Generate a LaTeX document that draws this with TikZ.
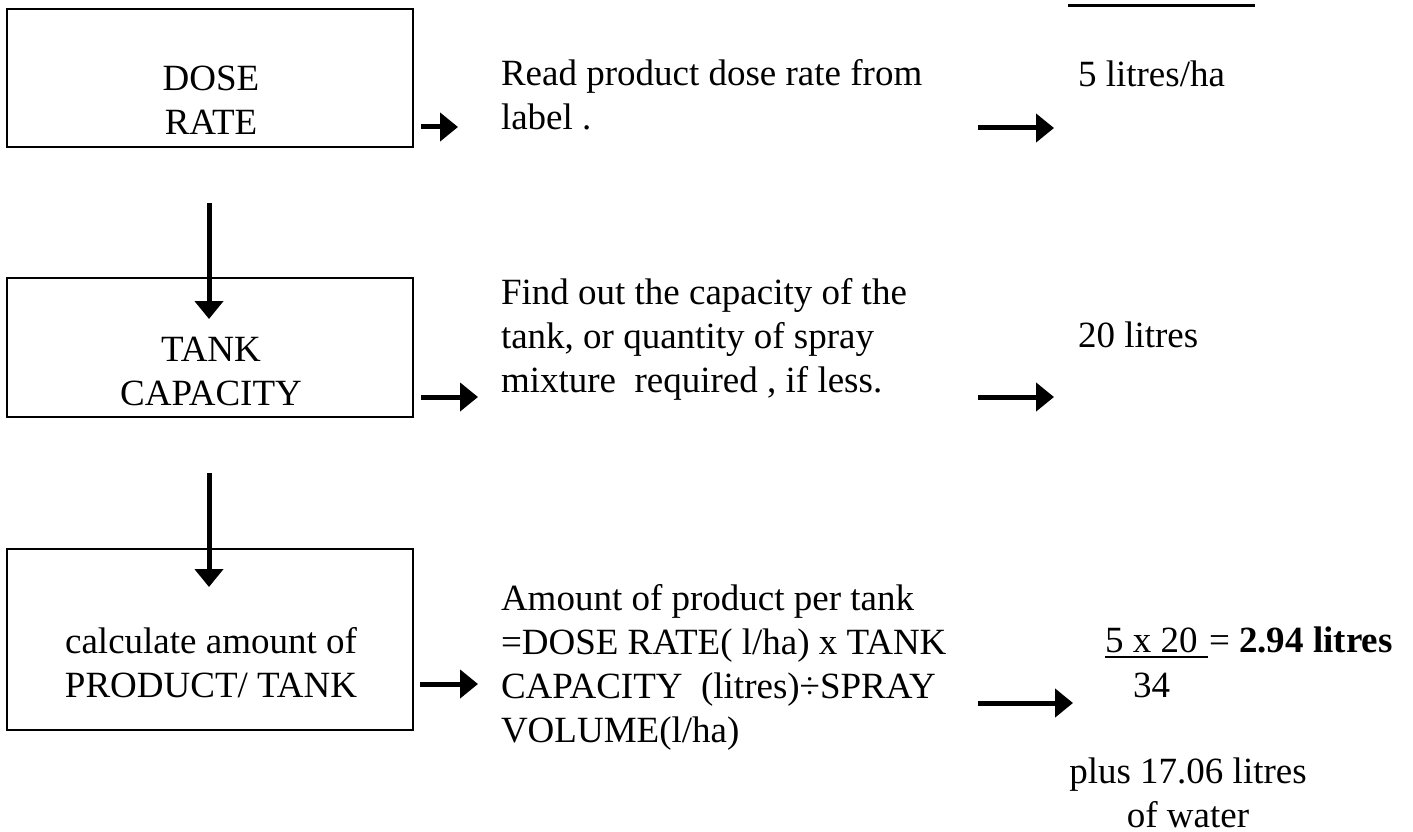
\documentclass[tikz,border=0pt]{standalone}
\usepackage{fontspec}
\setmainfont{Liberation Serif}
\usetikzlibrary{arrows.meta}
\begin{document}
\begin{tikzpicture}[x=1pt,y=1pt,
  every node/.style={inner sep=0pt,outer sep=0pt,font=\fontsize{37}{44}\selectfont},
  stepbox/.style={draw,line width=2.5pt,rectangle,minimum width=406pt},
  txt/.style={anchor=base west,align=left},
  ctxt/.style={anchor=base,align=center},
  arr/.style={line width=5pt,-{Triangle[length=18pt,width=28pt]}},
  rule/.style={line width=3.5pt}]
\useasboundingbox (0,0) rectangle (1413,-832);
% boxes
\node[stepbox,minimum height=138pt] (b1) at (210,-78) {};
\node[stepbox,minimum height=139pt] (b2) at (210,-347.5) {};
\node[stepbox,minimum height=181pt] (b3) at (210,-639.5) {};
% (multi-line nodes are anchored at the baseline of their last line)
\node[ctxt] (t1) at (211,-135) {DOSE\\RATE};
\node[ctxt] (t2) at (211,-405) {TANK\\CAPACITY};
\node[ctxt] (t3) at (211,-697) {calculate amount of\\PRODUCT/ TANK};
% middle column
\node[txt] (m1) at (501,-130) {Read product dose rate from\\label .};
\node[txt] (m2) at (501,-392) {Find out the capacity of the\\tank, or quantity of spray\\mixture\ \ required , if less.};
\node[txt] (m3) at (501,-742) {Amount of product per tank\\=DOSE RATE( l/ha) x TANK\\CAPACITY\ \ (litres)÷SPRAY\\VOLUME(l/ha)};
% right column
\node[txt] (r1) at (1078,-87) {5 litres/ha};
\node[txt] (r2) at (1078,-347) {20 litres};
\node[txt] (num) at (1105,-652) {5 x 20};
\node[txt] (res) at (1209,-652) {= \textbf{2.94 litres}};
\node[txt] (den) at (1133,-697) {34};
\node[ctxt] (water) at (1188,-827) {plus 17.06 litres\\of water};
% top rule
\coordinate (tl1) at (1068,-5.5);
\coordinate (tl2) at (1255,-5.5);
\draw[rule] (tl1) -- (tl2);
% underline of numerator
\coordinate (u1) at (1105,-657);
\coordinate (u2) at (1208,-657);
\draw[line width=1.7pt] (u1) -- (u2);
% vertical arrows
\coordinate (d1s) at (209,-203);
\coordinate (d1e) at (209,-319);
\coordinate (d2s) at (209,-473);
\coordinate (d2e) at (209,-587);
\draw[arr] (d1s) -- (d1e);
\draw[arr] (d2s) -- (d2e);
% horizontal arrows from boxes
\coordinate (h1s) at (421,-127);
\coordinate (h1e) at (458,-127);
\coordinate (h2s) at (421,-397);
\coordinate (h2e) at (478,-397);
\coordinate (h3s) at (420,-684);
\coordinate (h3e) at (478,-684);
\draw[arr] (h1s) -- (h1e);
\draw[arr] (h2s) -- (h2e);
\draw[arr] (h3s) -- (h3e);
% arrows to results
\coordinate (k1s) at (978,-128);
\coordinate (k1e) at (1054,-128);
\coordinate (k2s) at (978,-397);
\coordinate (k2e) at (1054,-397);
\coordinate (k3s) at (978,-703);
\coordinate (k3e) at (1073,-703);
\draw[arr] (k1s) -- (k1e);
\draw[arr] (k2s) -- (k2e);
\draw[arr] (k3s) -- (k3e);
\end{tikzpicture}
\end{document}
